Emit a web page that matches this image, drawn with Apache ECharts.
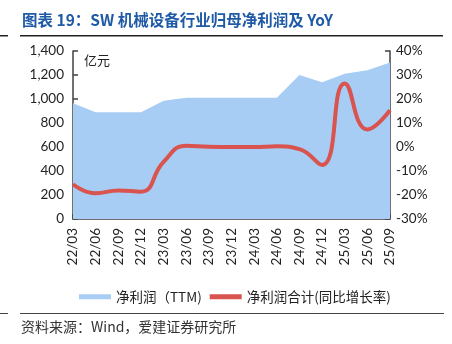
<!DOCTYPE html>
<html><head><meta charset="utf-8">
<script src="https://cdn.jsdelivr.net/npm/echarts@6/dist/echarts.min.js"></script>
<style>html,body{margin:0;padding:0;background:#fff}#c{width:452px;height:344px}</style>
</head><body><div id="c"></div>
<script>
const categories = ['22/03','22/06','22/09','22/12','23/03','23/06','23/09','23/12','24/03','24/06','24/09','24/12','25/03','25/06','25/09'];
const profitTTM = [965, 890, 890, 890, 985, 1010, 1010, 1010, 1010, 1010, 1200, 1140, 1210, 1240, 1305];
const profitYoY = [-15.5, -19.3, -18.1, -18.6, -6.2, 0.5, 0.1, 0.0, 0.0, 0.3, -0.9, -7.5, 26.5, 7.3, 15.3];
const leftTicks = {min: 0, max: 1400, interval: 200};
const rightTicks = {min: -30, max: 40, interval: 10};

const cjk = '"Noto Sans CJK SC", "Noto Sans", sans-serif';
const num = 'Lato, "Noto Sans", sans-serif';
const axisColor = '#404040';
const chart = echarts.init(document.getElementById('c'), null, {renderer: 'canvas'});
chart.setOption({
  animation: false,
  grid: {left: 73, right: 62, top: 51, bottom: 125},
  graphic: [
    {type: 'text', left: 22, top: 12, style: {text: '图表 19：SW 机械设备行业归母净利润及 YoY', fill: '#1f5aa6', font: 'bold 15.5px ' + cjk}},
    {type: 'rect', shape: {x: 20, y: 35, width: 423, height: 1.5}, style: {fill: '#222'}},
    {type: 'rect', shape: {x: 0, y: 35, width: 8, height: 1.5}, style: {fill: '#222'}},
    {type: 'rect', shape: {x: 20, y: 313, width: 424, height: 1}, style: {fill: '#444'}},
    {type: 'rect', shape: {x: 0, y: 313, width: 8, height: 1}, style: {fill: '#444'}},
    {type: 'text', left: 21, top: 320, style: {text: '资料来源：Wind，爱建证券研究所', fill: '#333', font: '14px ' + cjk}},
    {type: 'text', left: 84, top: 54, style: {text: '亿元', fill: '#222', font: '13px ' + cjk}}
  ],
  legend: {
    left: 74, top: 285, itemWidth: 32, itemHeight: 5, itemGap: 8,
    textStyle: {fontFamily: cjk, fontSize: 13.5, color: '#222', padding: [0,0,0,0]},
    data: [{name: '净利润（TTM)', icon: 'rect'}, {name: '净利润合计(同比增长率)', icon: 'rect'}]
  },
  xAxis: {
    type: 'category', data: categories, boundaryGap: false,
    axisLine: {lineStyle: {color: axisColor, width: 1.5}},
    axisTick: {inside: true, length: 5, lineStyle: {color: axisColor, width: 1.5}, alignWithLabel: true},
    axisLabel: {rotate: 90, interval: 0, margin: 9, color: '#222', fontFamily: num, fontSize: 13.5}
  },
  yAxis: [
    {type: 'value', min: leftTicks.min, max: leftTicks.max, interval: leftTicks.interval,
     axisLine: {show: true, lineStyle: {color: axisColor, width: 1.5}},
     axisTick: {show: true, inside: true, length: 5, lineStyle: {color: axisColor, width: 1.5}},
     splitLine: {show: false},
     axisLabel: {color: '#222', fontFamily: num, fontSize: 13.5, margin: 9,
       formatter: v => v.toLocaleString('en-US')}},
    {type: 'value', min: rightTicks.min, max: rightTicks.max, interval: rightTicks.interval, position: 'right',
     axisLine: {show: true, lineStyle: {color: axisColor, width: 1.5}},
     axisTick: {show: true, inside: true, length: 5, lineStyle: {color: axisColor, width: 1.5}},
     splitLine: {show: false},
     axisLabel: {color: '#222', fontFamily: num, fontSize: 13.5, margin: 6, formatter: v => v + '%'}}
  ],
  series: [
    {name: '净利润（TTM)', type: 'line', yAxisIndex: 0, data: profitTTM, symbol: 'none',
     lineStyle: {width: 0}, itemStyle: {color: '#a8cdf5'}, areaStyle: {color: '#a8cdf5', opacity: 1}, z: 1},
    {name: '净利润合计(同比增长率)', type: 'line', yAxisIndex: 1, data: profitYoY, symbol: 'none', smooth: 0.5,
     lineStyle: {width: 4, color: '#d9534f'}, itemStyle: {color: '#d9534f'}, z: 3}
  ]
});
</script></body></html>
